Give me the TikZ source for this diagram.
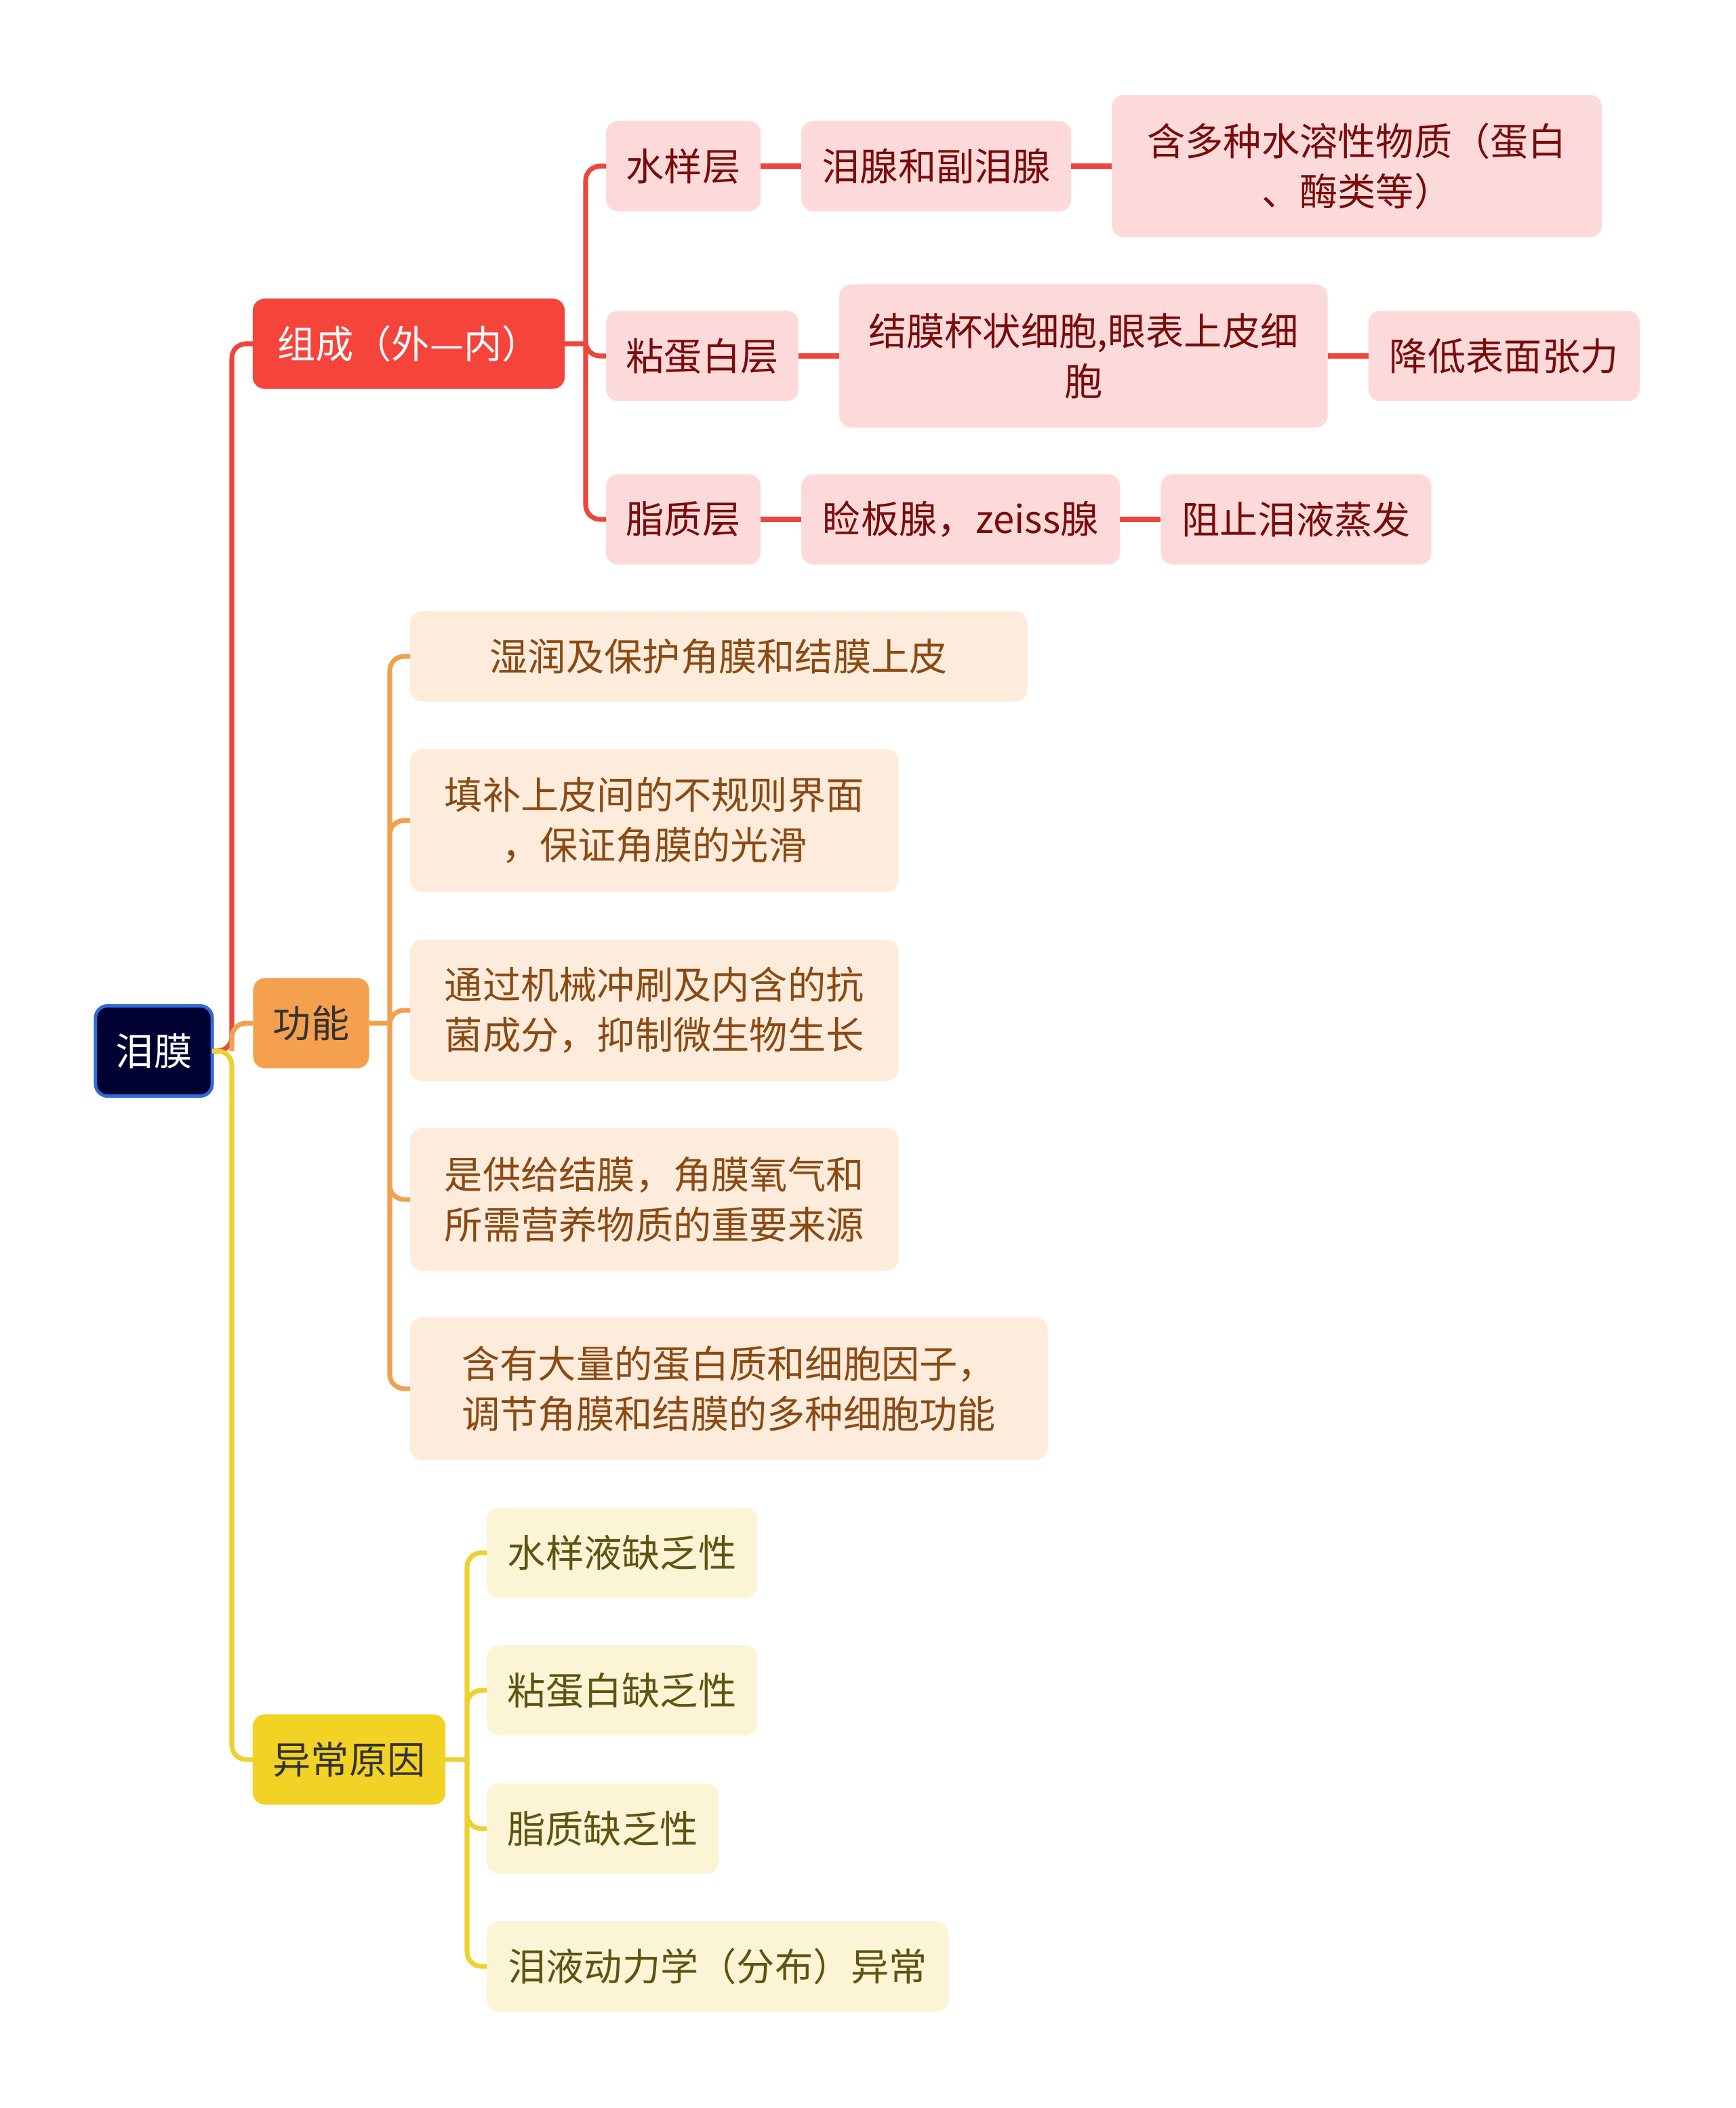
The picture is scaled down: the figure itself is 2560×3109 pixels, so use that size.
\documentclass[tikz,border=0pt]{standalone}
\usepackage{fontspec}
\setmainfont{Noto Sans CJK SC}
\usepackage{xcolor}
\usepackage{tikz}
\usetikzlibrary{positioning}

\definecolor{rootfill}{HTML}{000033}
\definecolor{rootline}{HTML}{2F6BD6}
\definecolor{redmain}{HTML}{F5443B}
\definecolor{redline}{HTML}{EC463D}
\definecolor{redbg}{HTML}{FDDADA}
\definecolor{redtext}{HTML}{7A0B0B}
\definecolor{orgmain}{HTML}{F5A04E}
\definecolor{orgline}{HTML}{F0A150}
\definecolor{orgbg}{HTML}{FDEBDC}
\definecolor{orgtext}{HTML}{8A4A12}
\definecolor{ylwmain}{HTML}{F2D224}
\definecolor{ylwline}{HTML}{EDD12E}
\definecolor{ylwbg}{HTML}{FCF5D5}
\definecolor{ylwtext}{HTML}{5E5311}
\definecolor{darktext}{HTML}{333333}

\begin{document}
\begin{tikzpicture}[x=0.01cm,y=-0.01cm,node distance=0.6cm,
  box/.style={rounded corners=5pt,inner sep=0pt,outer sep=0pt,align=center,minimum height=1.33cm,
    font=\fontsize{16}{21}\selectfont},
  rootbox/.style={box,fill=rootfill,draw=rootline,line width=1.4pt,text=white},
  zcbox/.style={box,fill=redmain,text=white},
  gnbox/.style={box,fill=orgmain,text=darktext},
  ycbox/.style={box,fill=ylwmain,text=darktext},
  redbox/.style={box,fill=redbg,text=redtext},
  orgbox/.style={box,fill=orgbg,text=orgtext},
  ylwbox/.style={box,fill=ylwbg,text=ylwtext},
  link/.style={line width=2pt,rounded corners=6pt},
  redlink/.style={link,draw=redline},
  orglink/.style={link,draw=orgline},
  ylwlink/.style={link,draw=ylwline}]
\fill[white] (0,0) rectangle (2560,3109);
\useasboundingbox (0,0) rectangle (2560,3109);

% root and first level
\node[rootbox,minimum width=1.72cm] (lm) at (227,1550) {泪膜};
\node[zcbox,minimum width=4.6cm]    (zc) at (603,507)  {组成（外—内）};
\node[gnbox,minimum width=1.71cm]   (gn) at (459,1509) {功能};
\node[ycbox,minimum width=2.84cm]   (yc) at (515,2595) {异常原因};

% 组成
\node[redbox,minimum width=2.28cm,anchor=west] (a1) at (894,245) {水样层};
\node[redbox,minimum width=2.84cm,anchor=west] (b1) at (894,525) {粘蛋白层};
\node[redbox,minimum width=2.28cm,anchor=west] (c1) at (894,766) {脂质层};
\node[redbox,minimum width=3.98cm] (a2) [right=of a1] {泪腺和副泪腺};
\node[redbox,minimum width=7.22cm,minimum height=2.1cm] (a3) [right=of a2] {含多种水溶性物质（蛋白\\、酶类等）};
\node[redbox,minimum width=7.2cm,minimum height=2.11cm] (b2) [right=of b1] {结膜杯状细胞,眼表上皮细\\胞};
\node[redbox,minimum width=4cm] (b3) [right=of b2] {降低表面张力};
\node[redbox,minimum width=4.7cm] (c2) [right=of c1] {睑板腺，zeiss腺};
\node[redbox,minimum width=3.99cm] (c3) [right=of c2] {阻止泪液蒸发};

% 功能
\node[orgbox,minimum width=9.1cm,anchor=west] (f1) at (605,968) {湿润及保护角膜和结膜上皮};
\node[orgbox,minimum width=7.2cm,minimum height=2.1cm,anchor=west] (f2) at (605,1210) {填补上皮间的不规则界面\\，保证角膜的光滑};
\node[orgbox,minimum width=7.2cm,minimum height=2.08cm,anchor=west] (f3) at (605,1490) {通过机械冲刷及内含的抗\\菌成分，抑制微生物生长};
\node[orgbox,minimum width=7.2cm,minimum height=2.1cm,anchor=west] (f4) at (605,1769) {是供给结膜，角膜氧气和\\所需营养物质的重要来源};
\node[orgbox,minimum width=9.4cm,minimum height=2.1cm,anchor=west] (f5) at (605,2048) {含有大量的蛋白质和细胞因子，\\调节角膜和结膜的多种细胞功能};

% 异常原因
\node[ylwbox,minimum width=3.99cm,anchor=west] (y1) at (718,2290) {水样液缺乏性};
\node[ylwbox,minimum width=3.99cm,anchor=west] (y2) at (718,2493) {粘蛋白缺乏性};
\node[ylwbox,minimum width=3.42cm,anchor=west] (y3) at (718,2697) {脂质缺乏性};
\node[ylwbox,minimum width=6.81cm,anchor=west] (y4) at (718,2900) {泪液动力学（分布）异常};

\coordinate (rt)  at (342,1550);
\coordinate (zcb) at (864,507);
\coordinate (gnb) at (575,1509);
\coordinate (ycb) at (689,2595);

\draw[redlink] (lm.east) -- (rt) |- (zc.west);
\draw[orglink] (rt) |- (gn.west);
\draw[ylwlink] (lm.east) -- (rt) |- (yc.west);

\draw[redlink] (zc.east) -- (zcb)
  (zcb) |- (a1.west) (zcb) |- (b1.west) (zcb) |- (c1.west);
\path[redlink] (a1) edge (a2) (a2) edge (a3)
  (b1) edge (b2) (b2) edge (b3)
  (c1) edge (c2) (c2) edge (c3);

\draw[orglink] (gn.east) -- (gnb)
  (gnb) |- (f1.west) (gnb) |- (f2.west) (gnb) |- (f3.west)
  (gnb) |- (f4.west) (gnb) |- (f5.west);

\draw[ylwlink] (yc.east) -- (ycb)
  (ycb) |- (y1.west) (ycb) |- (y2.west) (ycb) |- (y3.west) (ycb) |- (y4.west);
\end{tikzpicture}
\end{document}
